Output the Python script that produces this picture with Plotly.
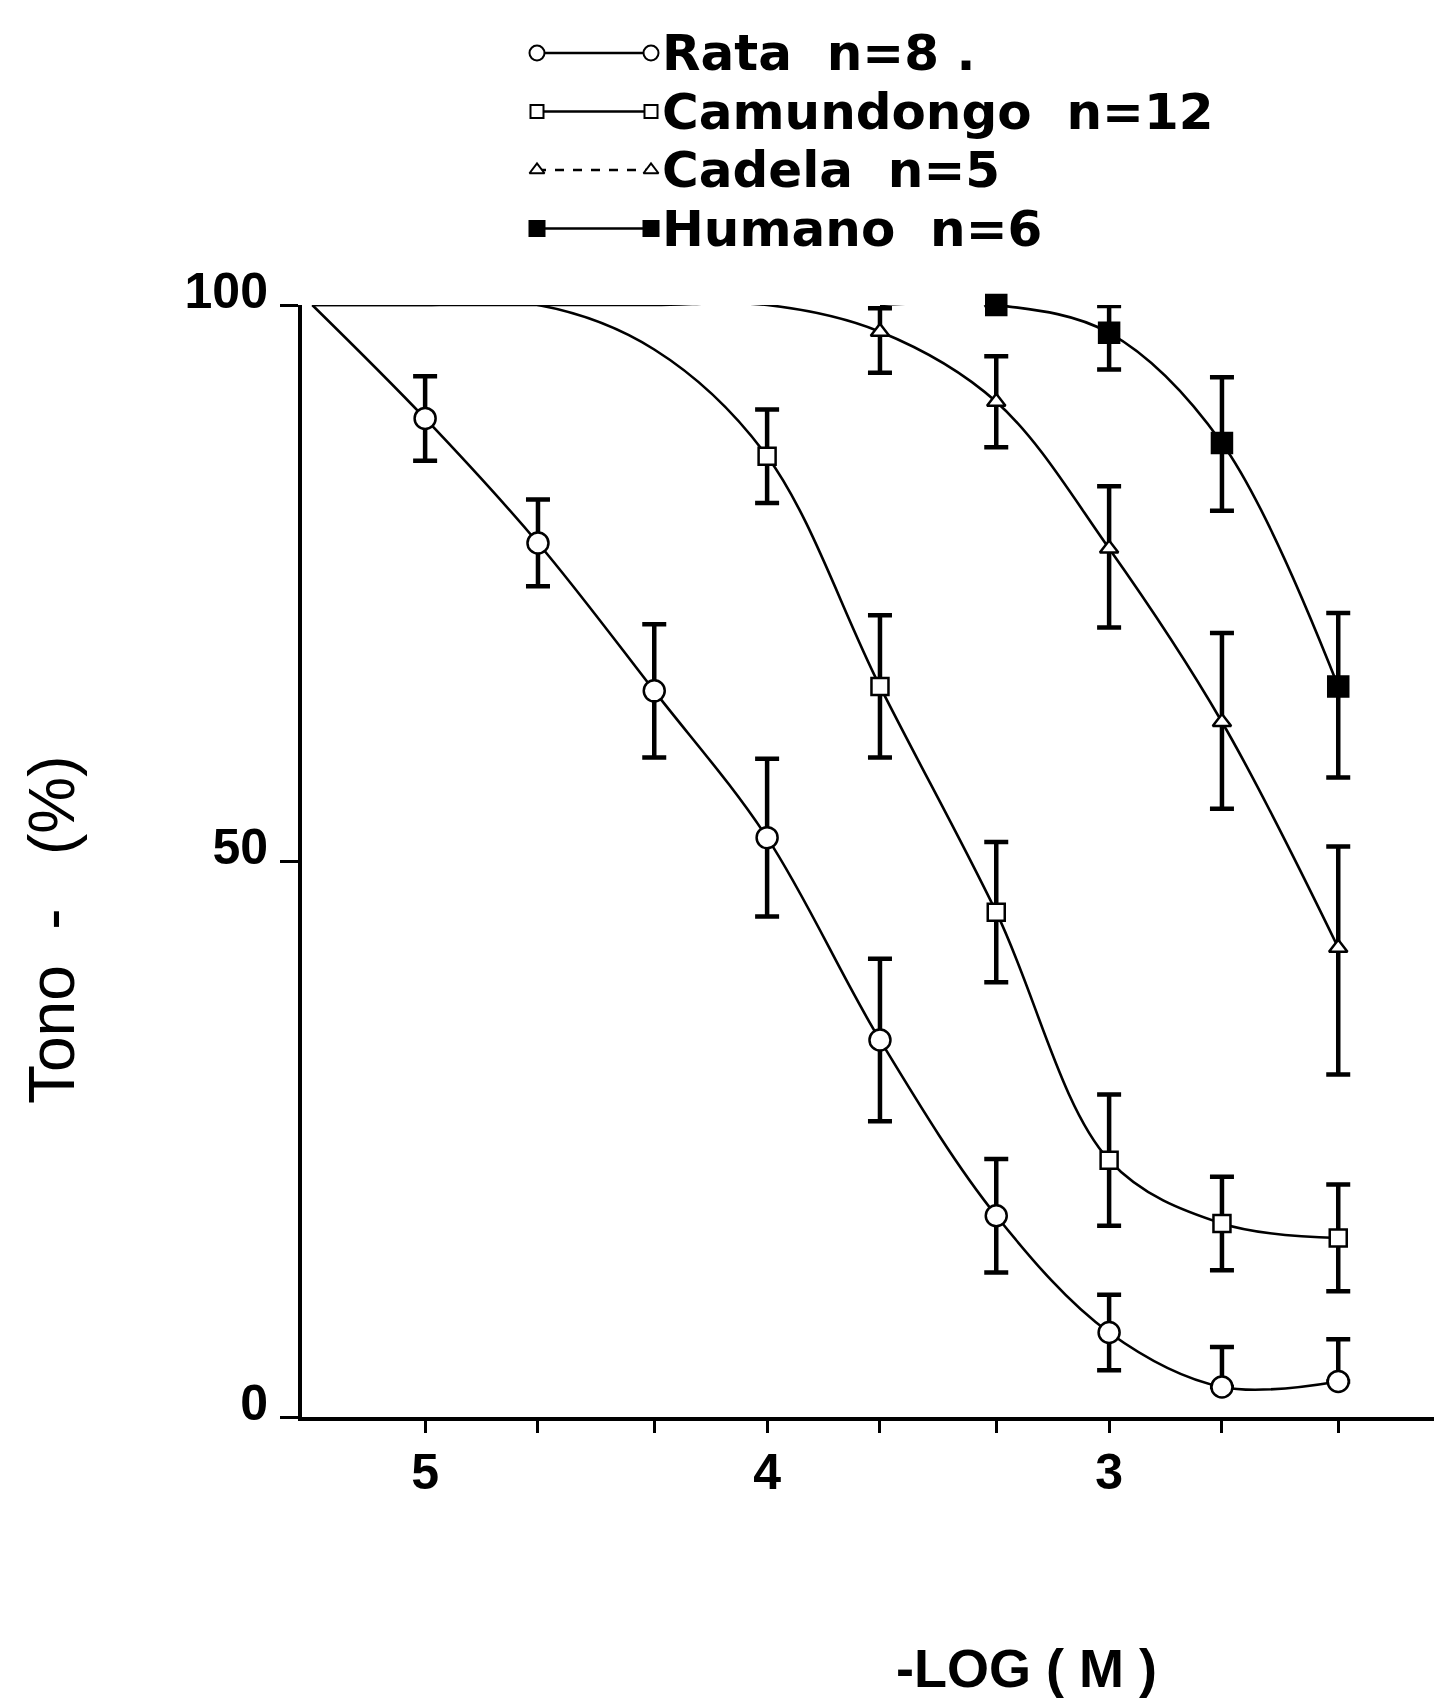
import plotly.graph_objects as go

# ---------------- data ----------------
log_conc = [5.33, 5.0, 4.67, 4.33, 4.0, 3.67, 3.33, 3.0, 2.67, 2.33]   # -log(M)

# smooth curves (plateau values without symbols are part of the drawn curve)
rata_tono = [100, 89.8, 78.6, 65.3, 52.1, 33.9, 18.1, 7.6, 2.7, 3.2]
camu_tono = [100, 100, 100, 96.0, 86.4, 65.7, 45.4, 23.1, 17.4, 16.1]
cade_tono = [100, 100, 100, 100, 100, 97.6, 91.3, 78.1, 62.5, 42.2]
huma_tono = [None, None, None, None, None, 100, 100, 97.5, 87.6, 65.7]

# error bars (None = no symbol at that concentration)
rata_err_up = [None, 3.8, 3.9, 6.0, 7.1, 7.3, 5.1, 3.4, 3.6, 3.8]
rata_err_dn = [None, 3.8, 3.9, 6.0, 7.1, 7.3, 5.1, 3.4, 0, 0]
camu_err_up = [None, None, None, None, 4.2, 6.4, 6.3, 5.9, 4.2, 4.8]
camu_err_dn = [None, None, None, None, 4.2, 6.4, 6.3, 5.9, 4.2, 4.8]
cade_err_up = [None, None, None, None, None, 2.1, 4.1, 5.6, 8.0, 9.1]
cade_err_dn = [None, None, None, None, None, 3.7, 4.1, 7.1, 7.8, 11.4]
huma_err_up = [None, None, None, None, None, None, 0, 2.4, 5.9, 6.6]
huma_err_dn = [None, None, None, None, None, None, 0, 3.3, 6.1, 8.2]

series_names = ["Rata  n=8 .", "Camundongo  n=12", "Cadela  n=5", "Humano  n=6"]
x_tick_vals = [5, 4, 3]
x_tick_text = ["5", "4", "3"]
x_minor_vals = [4.67, 4.33, 3.67, 3.33, 2.67, 2.33]
y_tick_vals = [0, 50, 100]
y_tick_text = ["0", "50", "100"]

# ---------------- figure ----------------
W, H = 1434, 1701
ML, MR, MT, MB = 302, 0, 20, 284
plot_h = H - MT - MB
y_top_px = 305
main_top = (H - MB - y_top_px) / plot_h

styles = [
    dict(symbol="circle", size=21, leg=15, fill="white", dash="solid"),
    dict(symbol="square", size=17, leg=13, fill="white", dash="solid"),
    dict(symbol="triangle-up", size=16, leg=13, fill="white", dash="dash"),
    dict(symbol="square", size=20, leg=15, fill="black", dash="solid"),
]
curves = [rata_tono, camu_tono, cade_tono, huma_tono]
ups = [rata_err_up, camu_err_up, cade_err_up, huma_err_up]
dns = [rata_err_dn, camu_err_dn, cade_err_dn, huma_err_dn]

fig = go.Figure()

# curves
for yv in curves:
    fig.add_trace(go.Scatter(
        x=log_conc, y=yv, mode="lines",
        line=dict(color="black", width=2.6, shape="spline", smoothing=1.0),
        showlegend=False, hoverinfo="skip", connectgaps=False,
    ))

# symbols with error bars
for yv, up, dn, st, nm in zip(curves, ups, dns, styles, series_names):
    idx = [i for i, e in enumerate(up) if e is not None]
    fig.add_trace(go.Scatter(
        x=[log_conc[i] for i in idx], y=[yv[i] for i in idx],
        mode="markers", name=nm, showlegend=False, cliponaxis=False,
        marker=dict(symbol=st["symbol"], size=st["size"],
                    color=st["fill"], line=dict(color="black", width=2.5)),
        error_y=dict(type="data", symmetric=False,
                     array=[up[i] for i in idx], arrayminus=[dn[i] for i in idx],
                     color="black", thickness=4.5, width=12),
    ))

# legend samples (drawn on a small auxiliary axis pair above the plot)
for row, (st, nm) in enumerate(zip(styles, series_names), start=1):
    fig.add_trace(go.Scatter(
        x=[0, 1], y=[row, row], mode="lines+markers", xaxis="x2", yaxis="y2",
        showlegend=False, hoverinfo="skip", cliponaxis=False,
        line=dict(color="black", width=2.5, dash=st["dash"]),
        marker=dict(symbol=st["symbol"], size=st["leg"],
                    color=st["fill"], line=dict(color="black", width=2)),
    ))
    fig.add_annotation(
        x=1.1, y=row, xref="x2", yref="y2", text=nm, showarrow=False,
        xanchor="left", yanchor="middle", borderpad=0, borderwidth=0,
        font=dict(family="DejaVu Sans, Liberation Sans, sans-serif", size=50,
                  color="black", weight="bold"),
    )

# legend axis geometry
leg_x0, leg_x1 = 537, 651
unit_px = leg_x1 - leg_x0
x2_range = [0, 7]
dom_x0 = (leg_x0 - ML) / (W - ML - MR)
dom_x1 = dom_x0 + 7 * unit_px / (W - ML - MR)
row1_px, row4_px = 53, 228.5
row_step = (row4_px - row1_px) / 3
top_px = row1_px - row_step / 2
bot_px = row4_px + row_step / 2
dom_y0 = (H - MB - bot_px) / plot_h
dom_y1 = (H - MB - top_px) / plot_h

tick_font = dict(family="Liberation Sans, Arial, sans-serif", size=50, color="black", weight="bold")

fig.update_layout(
    width=W, height=H,
    margin=dict(l=ML, r=MR, t=MT, b=MB, autoexpand=False),
    paper_bgcolor="white", plot_bgcolor="white",
    showlegend=False,
    xaxis=dict(
        range=[5.36, 2.05], showgrid=False, zeroline=False, automargin=False,
        showline=True, linecolor="black", linewidth=4,
        tickmode="array", tickvals=x_tick_vals, ticktext=x_tick_text,
        ticks="outside", ticklen=12, tickwidth=3, tickcolor="black",
        tickfont=tick_font, ticklabelstandoff=-4,
        minor=dict(tickmode="array", tickvals=x_minor_vals, ticks="outside",
                   ticklen=12, tickwidth=3, tickcolor="black"),
        anchor="y",
    ),
    yaxis=dict(
        range=[0, 100], domain=[0, main_top], showgrid=False, zeroline=False,
        automargin=False,
        showline=True, linecolor="black", linewidth=4,
        tickmode="array", tickvals=y_tick_vals, ticktext=y_tick_text,
        ticks="outside", ticklen=18, tickwidth=3, tickcolor="black",
        tickfont=tick_font, ticklabelshift=-15, ticklabelstandoff=2,
        anchor="x",
    ),
    xaxis2=dict(range=x2_range, domain=[dom_x0, dom_x1], visible=False, anchor="y2",
                fixedrange=True, automargin=False),
    yaxis2=dict(range=[4.5, 0.5], domain=[dom_y0, dom_y1], visible=False, anchor="x2",
                fixedrange=True, automargin=False),
)

# axis titles
fig.add_annotation(
    text="-LOG ( M )", xref="paper", yref="paper",
    x=(1026 - ML) / (W - ML - MR), y=(H - MB - 1668) / plot_h,
    xanchor="center", yanchor="middle", showarrow=False, borderpad=0,
    font=dict(family="Liberation Sans, Arial, sans-serif", size=54, color="black", weight="bold"),
)
fig.add_annotation(
    text="Tono\u00a0\u00a0-\u00a0\u00a0\u00a0(%)", xref="paper", yref="paper",
    x=(52 - ML) / (W - ML - MR), y=(H - MB - 930) / plot_h, textangle=-90,
    xanchor="center", yanchor="middle", showarrow=False, borderpad=0,
    font=dict(family="Liberation Sans, Arial, sans-serif", size=64, color="black"),
)

fig.write_html("out.html")
